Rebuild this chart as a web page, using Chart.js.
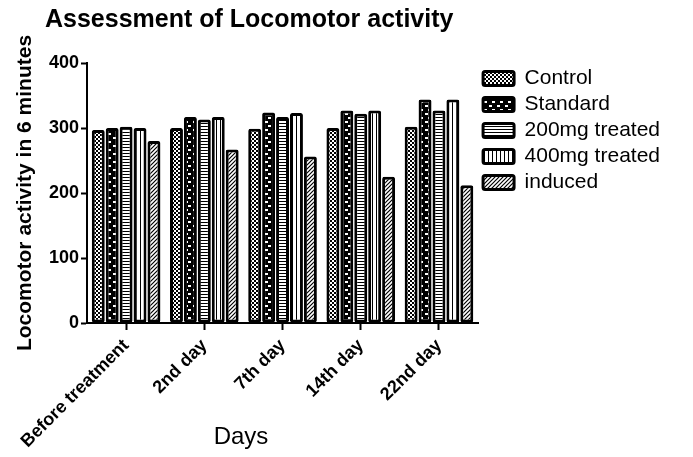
<!DOCTYPE html>
<html>
<head>
<meta charset="utf-8">
<script src="https://cdn.jsdelivr.net/npm/chart.js@4.4.0/dist/chart.umd.min.js"></script>
<style>
    html, body { margin: 0; padding: 0; background: #fff; }
    #wrap { width: 693px; height: 457px; }
</style>
</head>
<body>
<div id="wrap"><canvas id="chart"></canvas></div>
<script>
// Locomotor activity per group
const days = ['Before treatment', '2nd day', '7th day', '14th day', '22nd day'];
const control = [297, 300, 299, 300, 302];
const standard = [300, 317, 324, 327, 344];
const mg200 = [302, 313, 317, 322, 327];
const mg400 = [300, 317, 323, 327, 344];
const induced = [280, 267, 256, 225, 212];
const yMin = 0;
const yMax = 400;
const yStep = 100;

const FONT = '"Liberation Sans", Arial, sans-serif';

// small tiles used as bar fills
function makePattern(w, h, draw) {
    const c = document.createElement('canvas');
    c.width = w;
    c.height = h;
    const g = c.getContext('2d');
    draw(g, w, h);
    return g.createPattern(c, 'repeat');
}

const checker = makePattern(4, 4, (g) => {
    g.fillStyle = '#000';
    g.fillRect(0, 0, 4, 4);
    g.fillStyle = '#fff';
    g.fillRect(0, 0, 2, 2);
    g.fillRect(2, 2, 2, 2);
});

const dashes = makePattern(8, 8, (g) => {
    g.fillStyle = '#000';
    g.fillRect(0, 0, 8, 8);
    g.fillStyle = '#fff';
    g.fillRect(1, 1, 3, 2);
    g.fillRect(4, 5, 3, 2);
});

const hLines = makePattern(1, 3, (g) => {
    g.fillStyle = '#fff';
    g.fillRect(0, 0, 1, 3);
    g.fillStyle = '#000';
    g.fillRect(0, 0, 1, 1);
});

const vLines = makePattern(4, 1, (g) => {
    g.fillStyle = '#fff';
    g.fillRect(0, 0, 4, 1);
    g.fillStyle = '#000';
    g.fillRect(0, 0, 1, 1);
});

const hatch = makePattern(4, 4, (g) => {
    g.fillStyle = '#fff';
    g.fillRect(0, 0, 4, 4);
    g.strokeStyle = '#000';
    g.lineWidth = 1.2;
    g.beginPath();
    g.moveTo(0, 4); g.lineTo(4, 0);
    g.moveTo(-1, 1); g.lineTo(1, -1);
    g.moveTo(3, 5); g.lineTo(5, 3);
    g.stroke();
});

function barSet(label, data, fill) {
    return {
        label: label,
        data: data,
        backgroundColor: fill,
        borderColor: '#000',
        borderWidth: 3,
        borderSkipped: false,
        borderRadius: 2,
        categoryPercentage: 0.89,
        barPercentage: 0.93
    };
}

// title starts left of the plot, like the original figure
const shiftTitle = {
    id: 'shiftTitle',
    afterLayout(chart) {
        chart.titleBlock.left = 45;
    }
};

// x axis caption sits left of the plot centre in the original
const daysLabel = {
    id: 'daysLabel',
    afterDraw(chart) {
        const { ctx } = chart;
        ctx.save();
        ctx.font = '24px ' + FONT;
        ctx.fillStyle = '#000';
        ctx.textAlign = 'center';
        ctx.textBaseline = 'alphabetic';
        ctx.fillText('Days', 241, 444);
        ctx.restore();
    }
};

const ctx = document.getElementById('chart').getContext('2d');
new Chart(ctx, {
    type: 'bar',
    data: {
        labels: days,
        datasets: [
            barSet('Control', control, checker),
            barSet('Standard', standard, dashes),
            barSet('200mg treated', mg200, hLines),
            barSet('400mg treated', mg400, vLines),
            barSet('induced', induced, hatch)
        ]
    },
    options: {
        responsive: true,
        maintainAspectRatio: false,
        animation: false,
        devicePixelRatio: 1,
        layout: { padding: { left: 0, right: 23, top: 0, bottom: 0 } },
        scales: {
            x: {
                grid: {
                    display: true,
                    drawOnChartArea: false,
                    drawTicks: true,
                    offset: false,
                    tickLength: 7,
                    tickWidth: 2,
                    color: '#000'
                },
                border: { color: '#000', width: 2 },
                ticks: {
                    color: '#000',
                    font: { family: FONT, size: 18, weight: 'bold' },
                    minRotation: 45,
                    maxRotation: 45,
                    autoSkip: false,
                    padding: 5
                },
                afterFit(scale) {
                    scale.height = 134;
                    scale.paddingLeft = 0;
                    scale.paddingRight = 0;
                }
            },
            y: {
                min: yMin,
                max: yMax,
                grid: {
                    display: true,
                    drawOnChartArea: false,
                    drawTicks: true,
                    tickLength: 6,
                    tickWidth: 2,
                    color: '#000'
                },
                border: { color: '#000', width: 2 },
                ticks: {
                    stepSize: yStep,
                    color: '#000',
                    font: { family: FONT, size: 18, weight: 'bold' },
                    padding: 2
                },
                title: {
                    display: true,
                    text: 'Locomotor activity in 6 minutes',
                    color: '#000',
                    font: { family: FONT, size: 21, weight: 'bold' },
                    padding: { top: 13, bottom: 0 }
                },
                afterFit(scale) {
                    scale.width = 87;
                }
            }
        },
        plugins: {
            title: {
                display: true,
                text: 'Assessment of Locomotor activity',
                align: 'start',
                color: '#000',
                font: { family: FONT, size: 25, weight: 'bold' },
                padding: { top: 5, bottom: 28 }
            },
            legend: {
                position: 'right',
                align: 'start',
                fullSize: false,
                maxWidth: 230,
                labels: {
                    color: '#000',
                    boxWidth: 31,
                    boxHeight: 14,
                    padding: 5,
                    useBorderRadius: true,
                    borderRadius: 2,
                    font: { family: FONT, size: 21 }
                }
            },
            tooltip: { enabled: false }
        }
    },
    plugins: [shiftTitle, daysLabel]
});
</script>
</body>
</html>
